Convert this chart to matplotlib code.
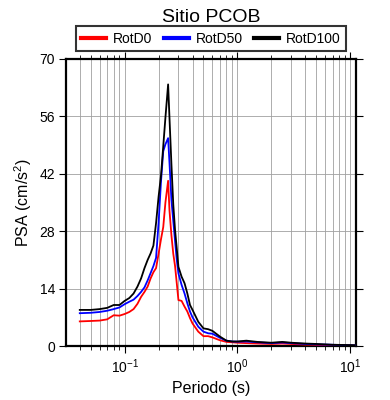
import matplotlib
matplotlib.use("Agg")
import matplotlib.pyplot as plt
from matplotlib.ticker import LogLocator, FixedLocator, NullFormatter

plt.rcParams['font.family'] = ['Liberation Sans', 'DejaVu Sans']
plt.rcParams['mathtext.fontset'] = 'custom'
plt.rcParams['mathtext.rm'] = 'Liberation Sans'

period = [0.040, 0.050, 0.060, 0.070, 0.080, 0.090, 0.100, 0.110, 0.120, 0.130,
          0.140, 0.150, 0.160, 0.170, 0.180, 0.190, 0.200, 0.210, 0.220, 0.230,
          0.243, 0.250, 0.260, 0.270, 0.280, 0.290, 0.300, 0.320, 0.340, 0.360,
          0.380, 0.400, 0.450, 0.500, 0.550, 0.600, 0.700, 0.800, 0.900, 1.00,
          1.20, 1.50, 2.00, 2.50, 3.00, 4.00, 5.00, 7.00, 9.00, 11.0]

rotd100 = [8.8, 8.8, 9.0, 9.3, 10.0, 10.0, 11.0, 11.7, 12.8, 14.5,
           16.5, 19.0, 21.0, 22.6, 24.5, 30.0, 36.4, 41.5, 48.7, 55.7,
           63.8, 55.5, 44.3, 34.5, 28.3, 23.8, 19.3, 16.9, 15.3, 12.8,
           10.0, 8.8, 5.9, 4.3, 4.1, 3.7, 2.3, 1.3, 1.1, 1.1,
           1.3, 1.0, 0.8, 1.0, 0.8, 0.6, 0.5, 0.3, 0.25, 0.2]

rotd50 = [8.0, 8.1, 8.3, 8.6, 9.0, 9.4, 10.2, 10.8, 11.3, 12.2,
          13.2, 14.3, 16.0, 17.8, 19.5, 21.5, 30.0, 40.0, 47.5, 49.2,
          50.7, 44.6, 35.6, 30.5, 25.6, 21.0, 17.7, 14.9, 12.8, 10.4,
          8.4, 7.0, 4.7, 3.5, 3.1, 3.0, 2.0, 1.3, 1.1, 1.05,
          1.1, 0.9, 0.7, 0.85, 0.7, 0.5, 0.4, 0.3, 0.2, 0.15]

rotd0 = [6.0, 6.1, 6.2, 6.5, 7.5, 7.4, 7.8, 8.3, 9.0, 10.3,
         12.0, 13.2, 14.5, 16.5, 18.0, 19.0, 22.5, 26.0, 29.0, 35.0,
         40.3, 33.0, 27.0, 22.5, 19.5, 15.3, 11.2, 11.0, 9.6, 8.4,
         6.8, 5.5, 3.5, 2.4, 2.4, 2.1, 1.4, 1.0, 0.9, 0.8,
         0.7, 0.6, 0.5, 0.6, 0.5, 0.35, 0.3, 0.2, 0.15, 0.1]

series_names = ['RotD0', 'RotD50', 'RotD100']
series_colors = ['red', 'blue', 'black']
y_ticks = [0, 14, 28, 42, 56, 70]

fig = plt.figure(figsize=(3.9, 4.0), dpi=100)
ax = fig.add_axes([66/390, 1-346/400, 289.7/390, 287/400])

for vals, name, col in zip([rotd0, rotd50, rotd100], series_names, series_colors):
    ax.plot(period, vals, color=col, lw=1.3, label=name, zorder=3)

ax.set_xscale('log')
ax.set_xlim(0.0302, 11.2)
ax.set_ylim(0, 70)
ax.yaxis.set_major_locator(FixedLocator(y_ticks))
ax.xaxis.set_major_locator(LogLocator(base=10, numticks=10))
ax.xaxis.set_minor_locator(LogLocator(base=10, subs=range(2, 10), numticks=20))
ax.xaxis.set_minor_formatter(NullFormatter())

ax.grid(True, which='both', axis='x', color='#a0a0a0', lw=0.6, zorder=0)
ax.grid(True, which='major', axis='y', color='#a0a0a0', lw=0.6, zorder=0)

for s in ax.spines.values():
    s.set_linewidth(1.6)

ax.tick_params(which='major', direction='out', length=5, width=0.8,
               top=True, right=True, labelsize=10, pad=3)
ax.tick_params(which='minor', direction='out', length=3, width=0.6,
               top=True, right=False)

ax.set_xlabel('Periodo (s)', fontsize=11.5, labelpad=4)
ax.set_ylabel('PSA (cm/s$^2$)', fontsize=11.5, labelpad=4)
ax.set_title('Sitio PCOB', fontsize=14, pad=27)

leg = ax.legend(loc='center', bbox_to_anchor=(0.5, 1.07), ncol=3, fontsize=10,
                frameon=True, fancybox=False, edgecolor='black', handlelength=1.8,
                handletextpad=0.5, columnspacing=0.8, borderpad=0.4,
                borderaxespad=0)
leg.get_frame().set_linewidth(1.5)
for h in leg.legend_handles:
    h.set_linewidth(3)

fig.savefig('out.png', dpi=100)
